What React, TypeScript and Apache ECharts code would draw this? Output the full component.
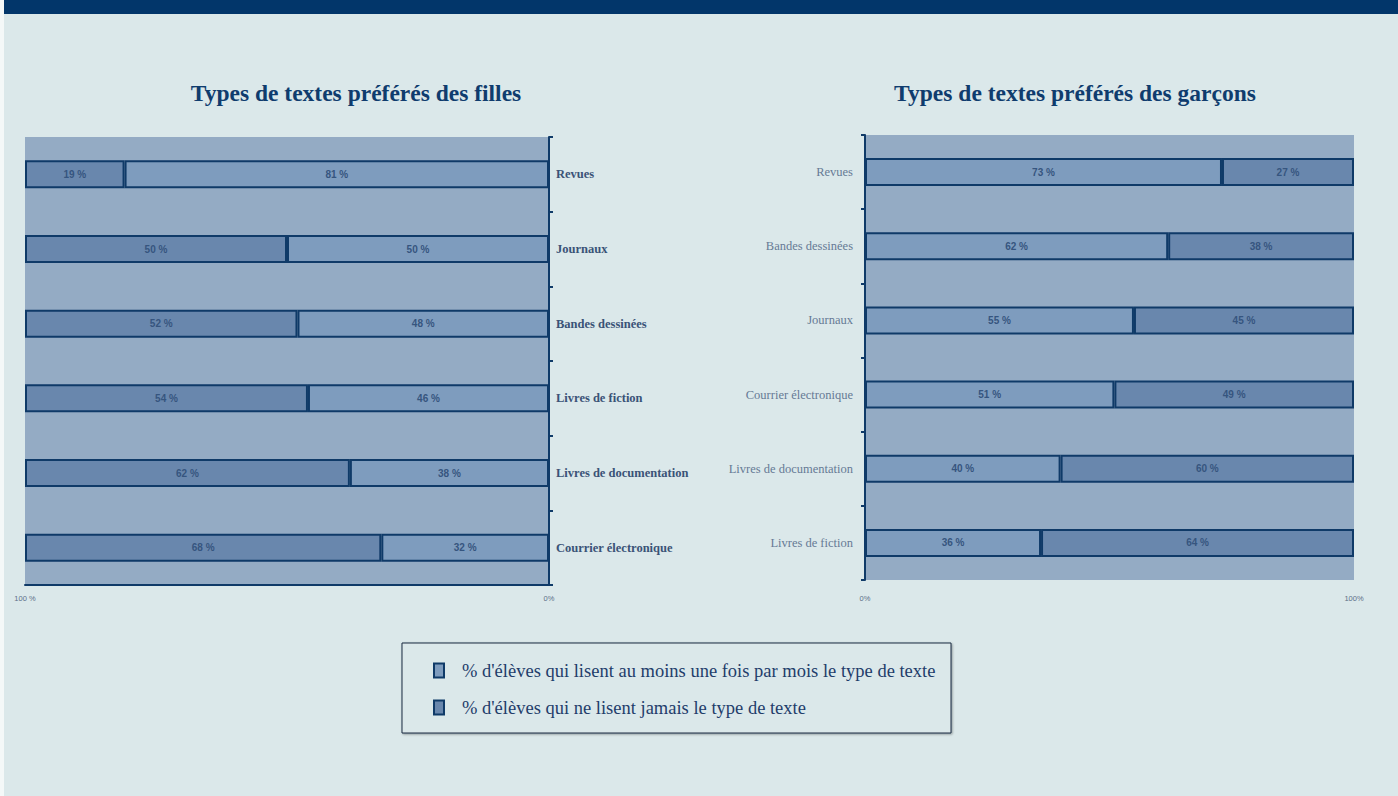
import React, { useEffect, useRef } from "react";
import * as echarts from "echarts";

const girlsCategories = ["Revues", "Journaux", "Bandes dessinées", "Livres de fiction", "Livres de documentation", "Courrier électronique"];
const girlsRead = [81, 50, 48, 46, 38, 32];
const girlsNever = [19, 50, 52, 54, 62, 68];

const boysCategories = ["Revues", "Bandes dessinées", "Journaux", "Courrier électronique", "Livres de documentation", "Livres de fiction"];
const boysRead = [73, 62, 55, 51, 40, 36];
const boysNever = [27, 38, 45, 49, 60, 64];

const leftTickLabels = ["100 %", "0%"];
const rightTickLabels = ["0%", "100%"];

const titleGirls = "Types de textes préférés des filles";
const titleBoys = "Types de textes préférés des garçons";
const seriesRead = "% d'élèves qui lisent au moins une fois par mois le type de texte";
const seriesNever = "% d'élèves qui ne lisent jamais le type de texte";

const NAVY = "#0f3a68";
const LIGHT = "#7e9cbe";
const DARK = "#6987ad";
const SERIF = "'Liberation Serif', 'DejaVu Serif', serif";

export default function App() {
  const ref = useRef<HTMLDivElement>(null);
  useEffect(() => {
    if (!ref.current) return;
    const chart = echarts.init(ref.current, undefined, { renderer: "svg" });
    const barLabel = {
      show: true,
      position: "inside",
      formatter: "{c} %",
      fontSize: 10,
      fontWeight: "bold",
      fontFamily: "'Liberation Sans', sans-serif",
      color: "#36557f",
    };
    const mkBar = (name: string, data: number[], color: string, xi: number) => ({
      name,
      type: "bar",
      stack: "s" + xi,
      xAxisIndex: xi,
      yAxisIndex: xi,
      data,
      barWidth: 28,
      itemStyle: { color, borderColor: NAVY, borderWidth: 2 },
      label: barLabel,
    });
    const titleStyle = { fontFamily: SERIF, fontWeight: "bold", fontSize: 23.5, color: "#0f3c6e" };
    chart.setOption({
      animation: false,
      backgroundColor: "#dbe8ea",
      title: [
        { text: titleGirls, left: 351, top: 76, textAlign: "center", textStyle: titleStyle },
        { text: titleBoys, left: 1070, top: 76, textAlign: "center", textStyle: titleStyle },
      ],
      graphic: [
        { type: "rect", shape: { x: 4, y: 0, width: 1394, height: 14 }, style: { fill: "#02366a" }, silent: true },
        { type: "rect", shape: { x: 0, y: 0, width: 4, height: 796 }, style: { fill: "#f4f8f8" }, silent: true },
        {
          type: "rect",
          shape: { x: 402, y: 643, width: 549, height: 90 },
          style: { fill: "#dbe8ea", stroke: "#1c2a40", lineWidth: 1, shadowColor: "rgba(0,0,0,0.35)", shadowOffsetX: 1, shadowOffsetY: 1, shadowBlur: 2 },
          silent: true,
        },
      ],
      legend: {
        orient: "vertical",
        left: 428,
        top: 656,
        itemWidth: 10,
        itemHeight: 14,
        itemGap: 18,
        icon: "rect",
        data: [seriesRead, seriesNever],
        textStyle: { fontFamily: SERIF, fontSize: 18.5, color: "#1f3d6b", padding: [0, 0, 0, 13] },
        selectedMode: false,
      },
      grid: [
        { left: 25, top: 137, width: 524, height: 448, show: true, backgroundColor: "#94abc4", borderWidth: 0 },
        { left: 865, top: 135, width: 489, height: 445, show: true, backgroundColor: "#94abc4", borderWidth: 0 },
      ],
      xAxis: [
        {
          gridIndex: 0,
          type: "value",
          min: 0,
          max: 100,
          interval: 100,
          inverse: true,
          axisLine: { show: true, lineStyle: { color: NAVY, width: 2 } },
          axisTick: { show: false },
          splitLine: { show: false },
          axisLabel: {
            fontSize: 7.5,
            color: "#5c6f88",
            margin: 9,
            formatter: (v: number) => (v === 100 ? leftTickLabels[0] : leftTickLabels[1]),
          },
        },
        {
          gridIndex: 1,
          type: "value",
          min: 0,
          max: 100,
          interval: 100,
          axisLine: { show: false },
          axisTick: { show: false },
          splitLine: { show: false },
          axisLabel: {
            fontSize: 7.5,
            color: "#5c6f88",
            margin: 14,
            formatter: (v: number) => (v === 0 ? rightTickLabels[0] : rightTickLabels[1]),
          },
        },
      ],
      yAxis: [
        {
          gridIndex: 0,
          type: "category",
          position: "right",
          inverse: true,
          data: girlsCategories,
          axisLine: { show: true, lineStyle: { color: NAVY, width: 2 } },
          axisTick: { show: true, length: 4, lineStyle: { color: NAVY, width: 2 } },
          axisLabel: { fontFamily: SERIF, fontSize: 12.5, fontWeight: "bold", color: "#3a5377", margin: 7 },
        },
        {
          gridIndex: 1,
          type: "category",
          position: "left",
          inverse: true,
          data: boysCategories,
          axisLine: { show: true, lineStyle: { color: NAVY, width: 2 } },
          axisTick: { show: true, length: 4, lineStyle: { color: NAVY, width: 2 } },
          axisLabel: { fontFamily: SERIF, fontSize: 12.5, color: "#667a95", margin: 12 },
        },
      ],
      series: [
        mkBar(seriesRead, girlsRead, LIGHT, 0),
        mkBar(seriesNever, girlsNever, DARK, 0),
        mkBar(seriesRead, boysRead, LIGHT, 1),
        mkBar(seriesNever, boysNever, DARK, 1),
      ],
    });
    return () => chart.dispose();
  }, []);
  return <div ref={ref} style={{ position: "fixed", left: 0, top: 0, width: 1398, height: 796 }} />;
}
